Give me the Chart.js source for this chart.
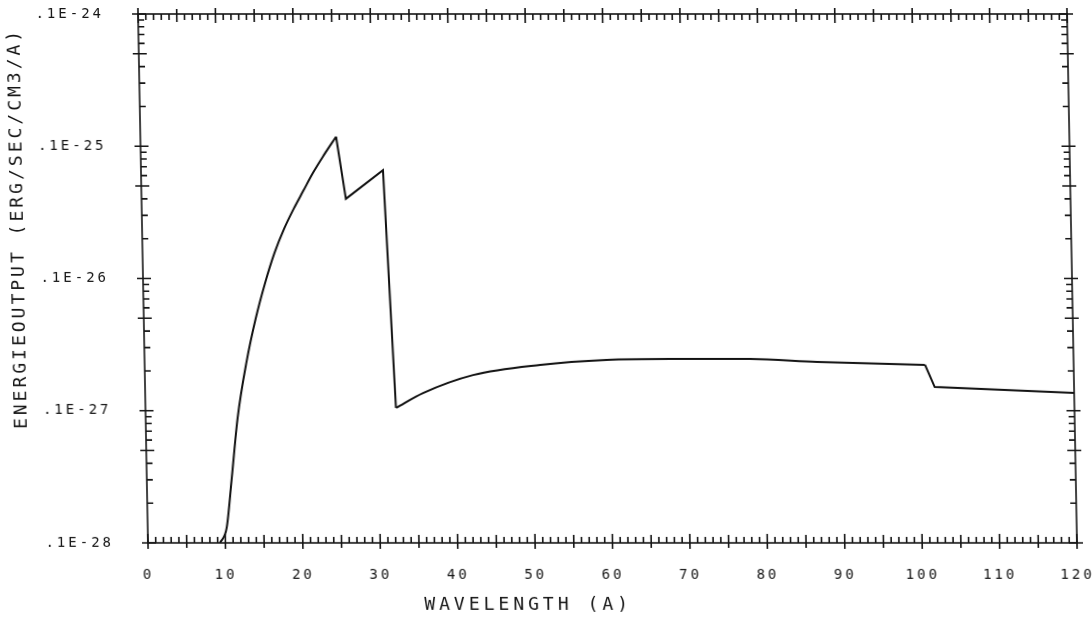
<!DOCTYPE html>
<html>
<head>
<meta charset="utf-8">
<script src="https://cdn.jsdelivr.net/npm/chart.js@4"></script>
<style>
  html, body { margin: 0; padding: 0; background: #fff; overflow: hidden; }
  #wrap { position: relative; width: 1092px; height: 618px; }
  /* plotter sheet is slightly sheared: top edge sits ~10px left of the bottom edge */
  #spectrum { position: absolute; left: 0; top: 0; transform: skewX(1.08deg); transform-origin: 0 543px; }
</style>
</head>
<body>
<div id="wrap"><canvas id="spectrum" width="1092" height="618"></canvas></div>
<script>
// Free-bound continuum: wavelength (A) vs energy output (erg/sec/cm3/A)
const wavelength = [9.3, 10.2, 10.98, 11.88, 13.17, 14.47, 15.76, 17.05, 18.34, 19.63, 20.92, 22.22, 23.51, 25.28,
                    26.4, 31.26, 32.36, 35.9, 42.4, 51.1, 59.7, 67.9, 78.2, 86.85, 100.8, 102.0, 120];
const output = [1.0e-29, 1.3e-29, 3.1e-29, 8.8e-29, 2.34e-28, 5.0e-28, 9.25e-28, 1.56e-27, 2.37e-27, 3.36e-27, 4.6e-27, 6.3e-27, 8.3e-27, 1.18e-26,
                4.0e-27, 6.6e-27, 1.05e-28, 1.36e-28, 1.86e-28, 2.22e-28, 2.42e-28, 2.46e-28, 2.46e-28, 2.34e-28, 2.22e-28, 1.51e-28, 1.36e-28];

// pieces of the curve between the edges: [first index, last index, smooth?]
const pieces = [[0, 13, true], [13, 16, false], [16, 24, true], [24, 26, false]];

const xTicks = [0, 10, 20, 30, 40, 50, 60, 70, 80, 90, 100, 110, 120];
const yTicks = [1e-29, 1e-28, 1e-27, 1e-26, 1e-25];
const xTitle = 'WAVELENGTH (A)';
const yTitle = 'ENERGIEOUTPUT (ERG/SEC/CM3/A) ';

const ink = '#151515';
const labelFont = { family: 'DejaVu Sans Mono', size: 14 };
const titleFont = { family: 'DejaVu Sans Mono', size: 18 };

// old plotter lettering is spaced out
const spacing = {
  id: 'spacing',
  beforeUpdate(chart) { chart.ctx.letterSpacing = '3px'; },
  beforeDraw(chart) { chart.ctx.letterSpacing = '3px'; }
};

// frame with tick marks on all four sides, ticks pointing inward
const plotterAxes = {
  id: 'plotterAxes',
  afterDatasetsDraw(chart) {
    const { ctx, chartArea: { left, right, top, bottom }, scales: { x, y } } = chart;
    ctx.save();
    ctx.strokeStyle = ink;
    ctx.lineWidth = 1.6;
    ctx.strokeRect(left, top, right - left, bottom - top);
    ctx.beginPath();
    for (let v = x.min; v <= x.max; v++) {
      const px = x.getPixelForValue(v);
      let inner = 6, outer = 0;
      if (v % 5 === 0) { inner = 8; outer = 5; }
      if (v % 10 === 0) { inner = 9; outer = 6; }
      ctx.moveTo(px, bottom + outer); ctx.lineTo(px, bottom - inner);
      ctx.moveTo(px, top - outer); ctx.lineTo(px, top + inner);
    }
    for (let e = -29; e < -25; e++) {
      for (let m = 1; m <= 9; m++) {
        const py = y.getPixelForValue(m * Math.pow(10, e));
        let inner = 6, outer = 0;
        if (m === 1 || m === 5) { inner = 8; outer = 6; }
        ctx.moveTo(left - outer, py); ctx.lineTo(left + inner, py);
        ctx.moveTo(right + outer, py); ctx.lineTo(right - inner, py);
      }
    }
    const pyTop = y.getPixelForValue(y.max);
    ctx.moveTo(left - 6, pyTop); ctx.lineTo(left + 8, pyTop);
    ctx.moveTo(right + 6, pyTop); ctx.lineTo(right - 8, pyTop);
    ctx.stroke();

    // x axis caption, set a little left of the middle as on the plot
    ctx.fillStyle = ink;
    ctx.font = `${titleFont.size}px "${titleFont.family}"`;
    ctx.letterSpacing = '4px';
    ctx.textAlign = 'center';
    ctx.textBaseline = 'middle';
    ctx.fillText(xTitle, left + 0.408 * (right - left), bottom + 62);
    ctx.restore();
  }
};

const datasets = pieces.map(([a, b, smooth]) => ({
  data: wavelength.slice(a, b + 1).map((w, i) => ({ x: w, y: output[a + i] })),
  borderColor: '#111',
  borderWidth: 2,
  pointRadius: 0,
  tension: 0,
  cubicInterpolationMode: smooth ? 'monotone' : 'default',
  fill: false
}));

new Chart(document.getElementById('spectrum').getContext('2d'), {
  type: 'line',
  data: { datasets },
  options: {
    responsive: false,
    animation: false,
    devicePixelRatio: 1,
    layout: { padding: { left: 0, top: 14, right: 15, bottom: 0 } },
    plugins: { legend: { display: false }, tooltip: { enabled: false } },
    scales: {
      x: {
        type: 'linear',
        min: 0,
        max: 120,
        afterBuildTicks(s) { s.ticks = xTicks.map(v => ({ value: v })); },
        ticks: { padding: 24, color: ink, font: labelFont, maxRotation: 0, autoSkip: false },
        grid: { display: false, drawTicks: false },
        border: { display: false },
        afterFit(s) { s.height = 75; s.paddingLeft = 0; s.paddingRight = 0; }
      },
      y: {
        type: 'logarithmic',
        min: 1e-29,
        max: 1e-25,
        afterBuildTicks(s) { s.ticks = yTicks.map(v => ({ value: v })); },
        ticks: {
          padding: 34,
          color: ink,
          font: labelFont,
          autoSkip: false,
          callback: v => '.1E' + (Math.round(Math.log10(v)) + 1)
        },
        grid: { display: false, drawTicks: false },
        border: { display: false },
        title: {
          display: true,
          text: yTitle,
          align: 'end',
          color: ink,
          font: titleFont,
          padding: { top: 14 }
        },
        afterFit(s) { s.width = 148; s.paddingTop = 0; s.paddingBottom = 0; }
      }
    }
  },
  plugins: [spacing, plotterAxes]
});
</script>
</body>
</html>
